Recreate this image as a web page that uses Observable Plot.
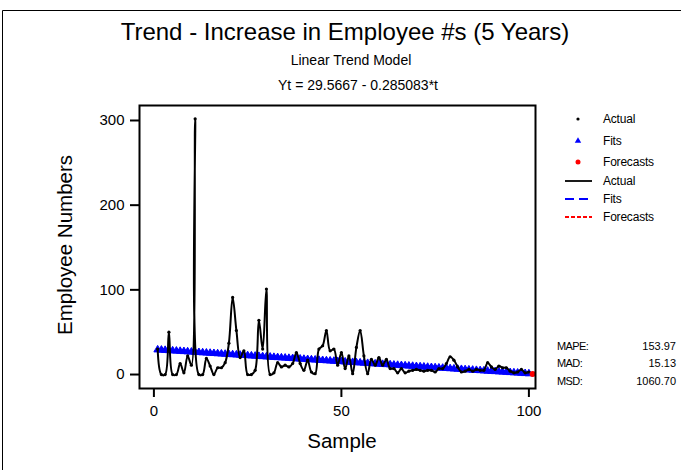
<!DOCTYPE html>
<html><head><meta charset="utf-8">
<script src="https://cdn.jsdelivr.net/npm/d3@7"></script>
<script src="https://cdn.jsdelivr.net/npm/@observablehq/plot@0.6"></script>
<style>
html,body{margin:0;padding:0;background:#fff;}
#chart{position:relative;width:681px;height:470px;}
</style></head><body><div id="chart"></div>
<script>
const title = "Trend - Increase in Employee #s (5 Years)";
const subtitle = "Linear Trend Model";
const equation = "Yt = 29.5667 - 0.285083*t";
const xLabel = "Sample";
const yLabel = "Employee Numbers";
const actual = [30,0,0,50,0,0,13,2,22,11,
  302,0,0,19,10,0,8,8,14,37,
  91,52,20,28,0,0,5,64,30,101,
  0,2,14,9,11,9,13,26,13,5,
  17,3,1,30,34,52,28,30,11,26,
  7,22,1,32,52,22,1,18,11,20,
  11,18,7,7,2,7,2,4,5,6,
  5,4,5,5,3,7,7,13,21,17,
  9,3,4,6,4,6,5,5,14,9,
  6,10,8,8,4,2,3,6,2,3];
const fits = [29.28,29.00,28.71,28.43,28.14,27.86,27.57,27.29,27.00,26.72,
  26.43,26.15,25.86,25.58,25.29,25.01,24.72,24.44,24.15,23.87,
  23.58,23.30,23.01,22.72,22.44,22.15,21.87,21.58,21.30,21.01,
  20.73,20.44,20.16,19.87,19.59,19.30,19.02,18.73,18.45,18.16,
  17.88,17.59,17.31,17.02,16.74,16.45,16.17,15.88,15.60,15.31,
  15.03,14.74,14.46,14.17,13.89,13.60,13.32,13.03,12.75,12.46,
  12.18,11.89,11.61,11.32,11.04,10.75,10.47,10.18,9.90,9.61,
  9.33,9.04,8.76,8.47,8.19,7.90,7.62,7.33,7.05,6.76,
  6.48,6.19,5.91,5.62,5.33,5.05,4.76,4.48,4.19,3.91,
  3.62,3.34,3.05,2.77,2.48,2.20,1.91,1.63,1.34,1.06];
const forecastT = [101];
const forecasts = [0.77];
const xTicks = [0, 50, 100];
const yTicks = [0, 100, 200, 300];
const legendLabels = ["Actual", "Fits", "Forecasts", "Actual", "Fits", "Forecasts"];
const accuracyLabels = ["MAPE:", "MAD:", "MSD:"];
const accuracyValues = ["153.97", "15.13", "1060.70"];

const actualData = actual.map((v, i) => ({t: i + 1, value: v}));
const fitData = fits.map((v, i) => ({t: i + 1, value: v}));
const fcData = forecasts.map((v, i) => ({t: forecastT[i], value: v}));
const font = "Liberation Sans, Arial, sans-serif";

const plot = Plot.plot({
  width: 681, height: 470,
  marginLeft: 139, marginRight: 146, marginTop: 105, marginBottom: 82,
  style: {fontFamily: font, background: "white", color: "black"},
  x: {domain: [-3.84, 101.76]},
  y: {domain: [-16.5, 317.7]},
  marks: [
    Plot.axisX({ticks: xTicks, tickSize: 9, tickPadding: 8, fontSize: 15, label: null, strokeWidth: 2}),
    Plot.axisY({ticks: yTicks, tickSize: 9, tickPadding: 6, fontSize: 15, label: null, strokeWidth: 2}),
    Plot.line(fitData, {x: "t", y: "value", stroke: "#0000ff", strokeWidth: 3.5, strokeDasharray: "8,2"}),
    Plot.dot(fitData, {x: "t", y: "value", symbol: "triangle", r: 2.8, fill: "#0000ff", stroke: "#0000ff", strokeWidth: 1}),
    Plot.line(actualData, {x: "t", y: "value", stroke: "black", strokeWidth: 2, curve: "catmull-rom"}),
    Plot.dot(actualData, {x: "t", y: "value", r: 1.6, fill: "black"}),
    Plot.dot(fcData, {x: "t", y: "value", r: 3, fill: "red"}),
    Plot.frame({stroke: "black", strokeWidth: 2})
  ]
});
document.getElementById("chart").appendChild(plot);

const svg = d3.select(plot);
// outer border
svg.append("path").attr("d", "M2.5,470 V10.5 H681").attr("fill", "none").attr("stroke", "black").attr("stroke-width", 1);

const txt = (x, y, s, size, anchor = "middle", extra) => {
  const t = svg.append("text").attr("x", x).attr("y", y).attr("font-size", size)
    .attr("font-family", font).attr("text-anchor", anchor).attr("fill", "black").text(s);
  if (extra) extra(t);
  return t;
};
txt(345, 40, title, 24);
txt(351, 65, subtitle, 14);
txt(358, 90, equation, 14);
txt(342, 448, xLabel, 20.5);
txt(0, 0, yLabel, 20.5, "middle", t => t.attr("transform", "translate(72,245) rotate(-90)"));

// legend
const ly = [119, 141, 162, 181, 199, 217];
const lg = svg.append("g");
lg.append("circle").attr("cx", 578).attr("cy", ly[0]).attr("r", 1.6).attr("fill", "black");
lg.append("path").attr("d", d3.symbol(d3.symbolTriangle, 18)()).attr("transform", `translate(578,${ly[1]})`).attr("fill", "#0000ff");
lg.append("circle").attr("cx", 578).attr("cy", ly[2]).attr("r", 2.5).attr("fill", "red");
lg.append("line").attr("x1", 565).attr("x2", 592).attr("y1", ly[3]).attr("y2", ly[3]).attr("stroke", "black").attr("stroke-width", 1.8);
lg.append("line").attr("x1", 565).attr("x2", 592).attr("y1", ly[4]).attr("y2", ly[4]).attr("stroke", "#0000ff").attr("stroke-width", 1.8).attr("stroke-dasharray", "9,5");
lg.append("line").attr("x1", 565).attr("x2", 592).attr("y1", ly[5]).attr("y2", ly[5]).attr("stroke", "red").attr("stroke-width", 1.8).attr("stroke-dasharray", "4,2");
legendLabels.forEach((s, i) => txt(603, ly[i] + 4, s, 12, "start", t => t.attr("letter-spacing", "-0.2")));

// accuracy measures
const ay = [346, 363, 381];
accuracyLabels.forEach((s, i) => txt(557, ay[i] + 4, s, 11, "start", t => t.attr("letter-spacing", "-0.6")));
accuracyValues.forEach((s, i) => txt(676, ay[i] + 4, s, 11, "end"));
</script></body></html>
